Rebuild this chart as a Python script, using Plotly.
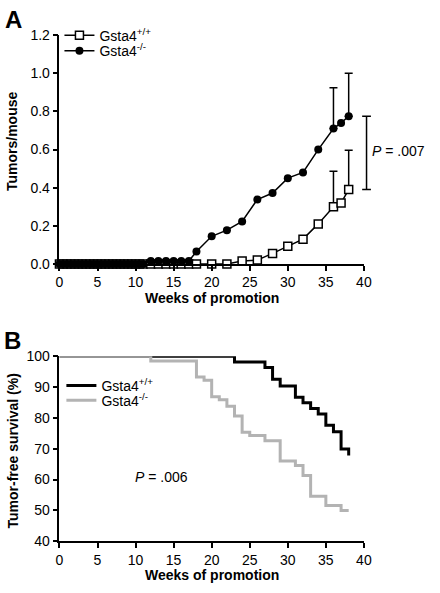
import plotly.graph_objects as go

# ---------------- Panel A data ----------------
weeks = [0, 0.5, 1, 1.5, 2, 2.5, 3, 3.5, 4, 4.5, 5, 5.5, 6, 6.5, 7, 7.5, 8, 8.5, 9, 9.5,
         10, 10.5, 11, 12, 13, 14, 15, 16, 17, 18, 20, 22, 24, 26, 28, 30, 32, 34, 36, 37, 38]
tumors_wt = [0, 0, 0, 0, 0, 0, 0, 0, 0, 0, 0, 0, 0, 0, 0, 0, 0, 0, 0, 0,
             0, 0, 0, 0, 0, 0, 0, 0, 0, 0, 0, 0, 0.015, 0.02, 0.055, 0.092, 0.13, 0.21, 0.30, 0.32, 0.39]
tumors_ko = [0, 0, 0, 0, 0, 0, 0, 0, 0, 0, 0, 0, 0, 0, 0, 0, 0, 0, 0, 0,
             0, 0, 0, 0.015, 0.015, 0.015, 0.015, 0.015, 0.015, 0.065, 0.145, 0.177, 0.223, 0.338, 0.372,
             0.45, 0.48, 0.60, 0.71, 0.74, 0.775]
err_weeks = [36, 38]
err_wt = [0.186, 0.207]
err_ko = [0.215, 0.225]

# ---------------- Panel B data ----------------
surv_weeks_wt = [0, 23, 27, 28, 29, 31, 32, 33, 34, 35, 36, 37, 38]
surv_wt = [100, 98.2, 96.4, 92.6, 90.4, 86.7, 84.9, 83.1, 81.3, 77.6, 75.5, 69.9, 67.8]
surv_weeks_ko = [0, 12, 18, 19, 20, 21, 22, 23, 24, 25, 27, 29, 31, 32, 33, 35, 37, 38]
surv_ko = [100, 98.5, 93.3, 92.2, 86.9, 85.9, 83.8, 80.6, 75.4, 74.3, 72.6, 66.0, 64.6,
           61.3, 54.6, 51.6, 50.0, 50.0]

x_ticks = [0, 5, 10, 15, 20, 25, 30, 35, 40]
ya_ticks = [0.0, 0.2, 0.4, 0.6, 0.8, 1.0, 1.2]
yb_ticks = [40, 50, 60, 70, 80, 90, 100]

W, H = 440, 593
FONT = "Liberation Sans, Arial, Helvetica, sans-serif"
GRAY = "#b3b3b3"


def px(x):
    return x / W


def py(y):
    return 1 - y / H


fig = go.Figure()

# error bars (upper only) for panel A
wt_at = [tumors_wt[weeks.index(w)] for w in err_weeks]
ko_at = [tumors_ko[weeks.index(w)] for w in err_weeks]
for yv, ev in ((wt_at, err_wt), (ko_at, err_ko)):
    fig.add_trace(go.Scatter(
        x=err_weeks, y=yv, mode="markers", marker=dict(size=1, opacity=0),
        error_y=dict(type="data", symmetric=False, array=ev, arrayminus=[0, 0],
                     color="black", thickness=1.5, width=4),
        showlegend=False, hoverinfo="skip", xaxis="x", yaxis="y", cliponaxis=False))

fig.add_trace(go.Scatter(
    x=weeks, y=tumors_wt, mode="lines+markers", name="Gsta4<sup>+/+</sup>",
    line=dict(color="black", width=1.5),
    marker=dict(symbol="square", size=8, color="white", line=dict(color="black", width=1.5)),
    xaxis="x", yaxis="y", legend="legend", cliponaxis=False))
fig.add_trace(go.Scatter(
    x=weeks, y=tumors_ko, mode="lines+markers", name="Gsta4<sup>-/-</sup>",
    line=dict(color="black", width=1.5),
    marker=dict(symbol="circle", size=8, color="black"),
    xaxis="x", yaxis="y", legend="legend2", cliponaxis=False))

# panel B survival
fig.add_trace(go.Scatter(
    x=surv_weeks_wt, y=surv_wt, mode="lines", line_shape="hv", name="Gsta4<sup>+/+</sup>",
    line=dict(color="black", width=3), xaxis="x2", yaxis="y2", legend="legend3"))
fig.add_trace(go.Scatter(
    x=surv_weeks_ko, y=surv_ko, mode="lines", line_shape="hv", name="Gsta4<sup>-/-</sup>",
    line=dict(color=GRAY, width=3), xaxis="x2", yaxis="y2", legend="legend4"))

axis_common = dict(showline=True, linecolor="black", linewidth=1.5, ticks="outside",
                   ticklen=5, tickwidth=1.5, tickcolor="black", showgrid=False,
                   zeroline=False, tickfont=dict(family=FONT, size=14, color="black"))


def leg(x, y):
    return dict(x=px(x), y=py(y), xanchor="left", yanchor="top", bgcolor="rgba(0,0,0,0)",
                font=dict(family=FONT, size=14), tracegroupgap=0)


xdom = [px(57), px(370)]
fig.update_layout(
    width=W, height=H, margin=dict(l=0, r=0, t=0, b=0),
    paper_bgcolor="white", plot_bgcolor="white",
    font=dict(family=FONT, size=14, color="black"),
    xaxis=dict(domain=xdom, range=[0, 40], tickvals=x_ticks, anchor="y", **axis_common),
    yaxis=dict(domain=[py(263), py(28)], range=[0, 1.2], tickvals=ya_ticks,
               tickformat=".1f", anchor="x", **axis_common),
    xaxis2=dict(domain=xdom, range=[0, 40], tickvals=x_ticks, anchor="y2", **axis_common),
    yaxis2=dict(domain=[py(548), py(358)], range=[40, 100], tickvals=yb_ticks,
                anchor="x2", **axis_common),
    legend=leg(57, 12),
    legend2=leg(57, 28),
    legend3=leg(59, 372),
    legend4=leg(59, 387),
    showlegend=True,
)

# P bracket in panel A spanning end values of both series
y_lo, y_hi = tumors_wt[-1], tumors_ko[-1]
bx = px(372.7)
cap = 4.5 / W
shape_style = dict(type="line", line=dict(color="black", width=1.5), xref="paper", yref="y")
fig.add_shape(x0=bx, x1=bx, y0=y_lo, y1=y_hi, **shape_style)
fig.add_shape(x0=bx - cap, x1=bx + cap, y0=y_lo, y1=y_lo, **shape_style)
fig.add_shape(x0=bx - cap, x1=bx + cap, y0=y_hi, y1=y_hi, **shape_style)

ann = [
    dict(text="<b>A</b>", x=px(10), y=py(12), font=dict(size=24)),
    dict(text="<b>B</b>", x=px(9), y=py(342), font=dict(size=24)),
    dict(text="<b>Tumors/mouse</b>", x=px(9), y=py(137), textangle=-90),
    dict(text="<b>Weeks of promotion</b>", x=px(213.5), y=py(298)),
    dict(text="<b>Tumor-free survival (%)</b>", x=px(9), y=py(455), textangle=-90),
    dict(text="<b>Weeks of promotion</b>", x=px(213.5), y=py(583)),
    dict(text="<i>P</i> = .007", x=px(376), y=py(147), xanchor="left"),
    dict(text="<i>P</i> = .006", x=px(133), y=py(482), xanchor="left"),
]
for a in ann:
    a.setdefault("xanchor", "center")
    fig.add_annotation(xref="paper", yref="paper", yanchor="middle", showarrow=False,
                       font=dict(family=FONT, size=a.pop("font", {}).get("size", 14), color="black"),
                       **a)

fig.write_html("out.html", config={"displayModeBar": False},
               post_script="document.body.style.margin='0';document.body.style.padding='0';")
